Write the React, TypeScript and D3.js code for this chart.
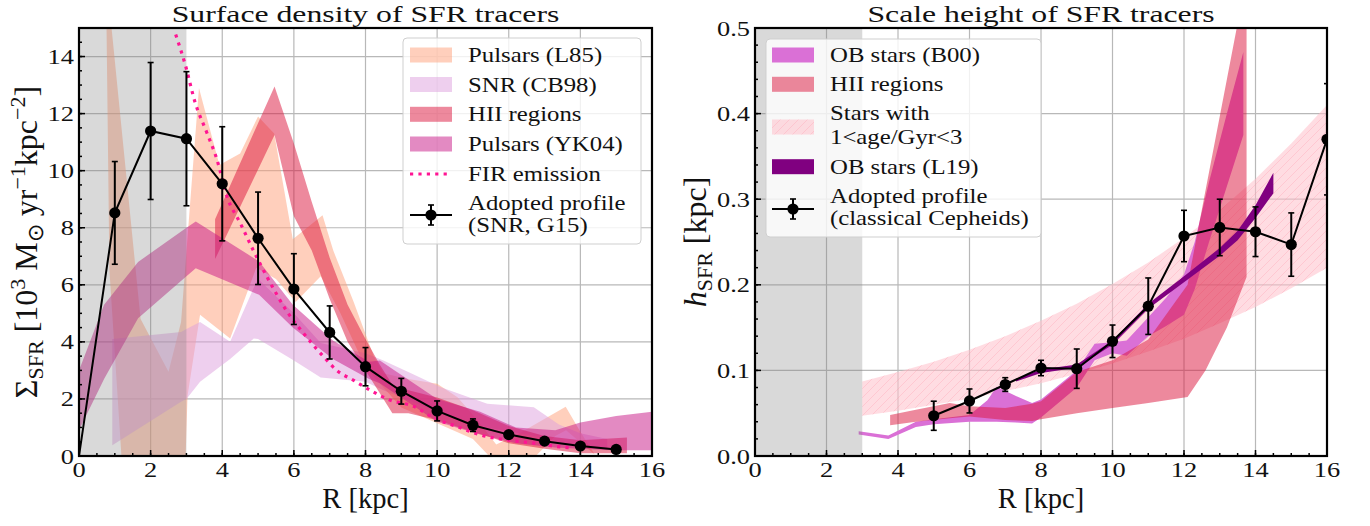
import React from 'react';
import * as d3 from 'd3';

// ---------------- Surface density panel ----------------
const densityR = [0, 1, 2, 3, 4, 5, 6, 7, 8, 9, 10, 11, 12, 13, 14, 15];
const densityAdopted = [0, 8.52, 11.39, 11.12, 9.54, 7.63, 5.85, 4.33, 3.13, 2.27, 1.58, 1.08, 0.75, 0.52, 0.35, 0.23];
const densityAdoptedErr = [null, 1.8, 2.4, 2.35, 2.0, 1.62, 1.24, 0.93, 0.67, 0.45, 0.35, 0.22, 0.1, 0.08, 0.07, 0.05];

// Pulsars (L85): upper / lower envelopes as [R, value]
const pulsarsL85Upper = [[0.75, 17], [1.72, 4.8], [2.5, 2.95], [2.85, 4.7], [3.35, 12.9], [3.92, 10.2], [4.5, 10.6], [5.0, 11.9], [5.45, 11.3], [5.97, 7.6], [6.8, 8.44], [7.1, 7.2], [7.67, 5.4], [8.23, 3.5], [8.5, 2.9], [9.2, 2.7], [10.0, 2.53], [10.57, 2.06], [11.13, 1.25], [11.65, 0.4], [12.3, 0.8], [13.59, 1.73], [14.0, 0.85], [14.4, 0.05]];
const pulsarsL85Lower = [[0.75, 17], [0.85, 6.5], [1.2, -0.3], [2.97, -0.3], [3.03, 2.1], [3.38, 4.95], [4.22, 4.12], [4.95, 6.6], [5.5, 6.2], [6.05, 5.4], [6.75, 6.3], [7.3, 5.0], [8.0, 3.1], [9.0, 1.7], [10.0, 1.15], [11.0, 0.6], [11.6, -0.2], [12.6, -0.2], [13.3, 0.7], [13.6, 0.9], [14.4, 0.05]];

// SNR (CB98)
const snrR = [0.93, 2.85, 3.0, 3.38, 4.22, 4.88, 5.0, 6.0, 6.75, 8.0, 8.5, 9.3, 10.1, 11.4, 12.7, 13.4, 14.0, 14.75];
const snrUpper = [4.1, 4.35, 4.45, 4.7, 4.0, 5.9, 6.2, 5.0, 3.96, 3.6, 3.35, 2.88, 2.41, 1.83, 1.71, 1.1, 0.8, 0.6];
const snrLower = [0.38, 1.9, 2.0, 2.6, 3.4, 4.12, 4.1, 3.35, 2.75, 2.6, 2.3, 1.9, 1.5, 1.0, 0.7, 0.5, 0.35, 0.2];

// HII regions (surface density)
const hiiDensR = [3.8, 5.46, 6.0, 6.5, 7.0, 7.5, 8.0, 8.4, 8.75, 9.2, 10.0, 11.0, 12.0, 13.0, 14.0, 15.3];
const hiiDensUpper = [8.3, 12.95, 10.95, 8.9, 6.95, 5.3, 4.1, 3.2, 2.5, 2.3, 2.05, 1.6, 1.05, 0.7, 0.55, 0.65];
const hiiDensLower = [6.9, 11.25, 8.4, 7.2, 5.5, 4.0, 3.0, 2.2, 1.5, 1.5, 1.25, 0.85, 0.45, 0.25, 0.1, 0.1];

// Pulsars (YK04)
const yk04R = [0, 0.7, 1.65, 3.0, 3.26, 5.03, 5.97, 7.09, 8.1, 8.4, 10.0, 11.2, 12.2, 13.3, 14.0, 15.0, 16.2];
const yk04Upper = [3.0, 5.3, 6.8, 8.0, 8.22, 6.82, 5.3, 4.05, 3.3, 3.35, 2.0, 1.55, 1.0, 0.9, 1.17, 1.4, 1.58];
const yk04Lower = [0.9, 2.7, 4.83, 6.3, 6.58, 5.65, 4.5, 3.4, 2.7, 2.55, 1.2, 0.75, 0.45, 0.3, 0.25, 0.2, 0.2];

// FIR emission
const firR = [2.7, 2.97, 3.24, 3.57, 3.85, 4.13, 4.5, 4.87, 5.34, 5.81, 6.27, 6.83, 7.2, 7.67, 8.14, 8.7, 9.35, 9.91, 10.56, 11.2, 11.96, 12.7, 13.36, 13.8];
const firSigma = [14.77, 13.7, 12.4, 11.33, 10.4, 9.1, 8.17, 7.2, 6.07, 5.06, 4.3, 3.48, 3.0, 2.65, 2.3, 1.95, 1.74, 1.33, 1.03, 0.74, 0.56, 0.45, 0.33, 0.28];

// ---------------- Scale height panel ----------------
const heightR = [5, 6, 7, 8, 9, 10, 11, 12, 13, 14, 15, 16];
const heightAdopted = [0.047, 0.0643, 0.0835, 0.1028, 0.102, 0.134, 0.175, 0.257, 0.267, 0.262, 0.247, 0.370];
const heightAdoptedErr = [0.017, 0.014, 0.008, 0.009, 0.023, 0.019, 0.033, 0.030, 0.033, 0.029, 0.037, 0.065];

// OB stars (B00)
const b00R = [2.9, 3.73, 4.5, 5.0, 6.0, 6.5, 6.76, 7.3, 7.75, 8.0, 9.0, 9.5, 10.0, 10.4, 11.0, 11.5, 12.0, 12.3, 12.7, 13.2, 13.66];
const b00Upper = [0.029, 0.024, 0.040, 0.043, 0.048, 0.065, 0.081, 0.07, 0.062, 0.066, 0.100, 0.131, 0.133, 0.135, 0.162, 0.185, 0.212, 0.25, 0.32, 0.40, 0.472];
const b00Lower = [0.025, 0.020, 0.034, 0.037, 0.040, 0.040, 0.040, 0.039, 0.038, 0.045, 0.080, 0.112, 0.120, 0.117, 0.140, 0.152, 0.165, 0.195, 0.25, 0.315, 0.375];

// HII regions (scale height)
const hiiHeightR = [3.78, 4.5, 5.45, 6.0, 7.0, 7.75, 8.0, 9.0, 10.0, 11.0, 12.1, 12.6, 13.2, 13.75];
const hiiHeightUpper = [0.048, 0.054, 0.062, 0.058, 0.056, 0.061, 0.064, 0.098, 0.112, 0.136, 0.2, 0.31, 0.44, 0.56];
const hiiHeightLower = [0.036, 0.040, 0.044, 0.046, 0.042, 0.041, 0.043, 0.050, 0.056, 0.062, 0.069, 0.10, 0.15, 0.209];

// Stars with 1 < age/Gyr < 3
const starsR = [3, 4, 5, 6, 7, 8, 9, 10, 11, 12, 13, 14, 15, 16];
const starsUpper = [0.087, 0.098, 0.110, 0.124, 0.140, 0.158, 0.178, 0.201, 0.226, 0.255, 0.287, 0.324, 0.365, 0.410];
const starsLower = [0.047, 0.053, 0.060, 0.067, 0.076, 0.085, 0.096, 0.108, 0.122, 0.137, 0.155, 0.174, 0.196, 0.220];

// OB stars (L19)
const l19R = [7.3, 8, 9, 10, 11, 12, 13, 13.5, 14, 14.5];
const l19Upper = [0.090, 0.101, 0.107, 0.135, 0.178, 0.210, 0.243, 0.263, 0.293, 0.331];
const l19Lower = [0.087, 0.097, 0.103, 0.130, 0.172, 0.203, 0.234, 0.252, 0.278, 0.307];

// ---------------- Axes ----------------
const rTicks = [0, 2, 4, 6, 8, 10, 12, 14, 16];
const densityTicks = [0, 2, 4, 6, 8, 10, 12, 14];
const heightTicks = [0, 0.1, 0.2, 0.3, 0.4, 0.5];
const heightTickLabels = ['0.0', '0.1', '0.2', '0.3', '0.4', '0.5'];

const SERIF = "'Liberation Serif', 'Times New Roman', serif";

const C = {
  l85: '#ffa07a', snr: '#dda0dd', hii: '#dc143c', yk04: '#c71585', fir: '#ff1493',
  b00: '#da70d6', l19: '#800080', stars: '#ffc0cb', grid: '#b8b8b8', span: '#808080',
};

const W = 1370, H = 526;
const TOP = 28, BOTTOM = 456;

const xL = d3.scaleLinear().domain([0, 16]).range([79, 652]);
const yL = d3.scaleLinear().domain([0, 15]).range([BOTTOM, TOP]);
const xR = d3.scaleLinear().domain([0, 16]).range([755, 1327]);
const yR = d3.scaleLinear().domain([0, 0.5]).range([BOTTOM, TOP]);

type Scale = d3.ScaleLinear<number, number>;

function areaPath(xs: number[], lo: number[], hi: number[], x: Scale, y: Scale) {
  const idx = xs.map((_, i) => i);
  return d3.area<number>().x(i => x(xs[i])).y0(i => y(lo[i])).y1(i => y(hi[i]))(idx) || '';
}

function envelopePath(upper: number[][], lower: number[][], x: Scale, y: Scale) {
  const pts: [number, number][] = [
    ...upper.map(p => [x(p[0]), y(p[1])] as [number, number]),
    ...lower.slice().reverse().map(p => [x(p[0]), y(p[1])] as [number, number]),
  ];
  return (d3.line()(pts) || '') + 'Z';
}

function range(a: number, b: number, step: number) {
  const out: number[] = [];
  const n = Math.round((b - a) / step);
  for (let i = 0; i <= n; i++) out.push(+(a + i * step).toFixed(6));
  return out;
}

// Serif text, widened horizontally to a broad book-face proportion
function T({ x, y, size, sx = 1.2, anchor = 'start', children }: {
  x: number; y: number; size: number; sx?: number; anchor?: string; children: React.ReactNode;
}) {
  return (
    <text transform={`translate(${x},${y}) scale(${sx},1)`} fontFamily={SERIF} fontSize={size}
      textAnchor={anchor as any} fill="#111">{children}</text>
  );
}

function Grid({ x, y, yTicks }: { x: Scale; y: Scale; yTicks: number[] }) {
  const [x0, x1] = x.range();
  return (
    <g stroke={C.grid} strokeWidth={1.2}>
      {rTicks.map(t => <line key={'gx' + t} x1={x(t)} x2={x(t)} y1={TOP} y2={BOTTOM} />)}
      {yTicks.map(t => <line key={'gy' + t} x1={x0} x2={x1} y1={y(t)} y2={y(t)} />)}
    </g>
  );
}

function Frame({ x, y, yTicks, yLabels, yMinor, xMinor }: {
  x: Scale; y: Scale; yTicks: number[]; yLabels: string[]; yMinor: number[]; xMinor: number[];
}) {
  const [x0, x1] = x.range();
  return (
    <g>
      <g stroke="#000" strokeWidth={1.5}>
        {xMinor.map(t => <line key={'xm' + t} x1={x(t)} x2={x(t)} y1={BOTTOM} y2={BOTTOM - 3} />)}
        {rTicks.map(t => <line key={'xM' + t} x1={x(t)} x2={x(t)} y1={BOTTOM} y2={BOTTOM - 6} />)}
        {yMinor.map(t => <line key={'ym' + t} x1={x0} x2={x0 + 3} y1={y(t)} y2={y(t)} />)}
        {yTicks.map(t => <line key={'yM' + t} x1={x0} x2={x0 + 6} y1={y(t)} y2={y(t)} />)}
      </g>
      <rect x={x0} y={TOP} width={x1 - x0} height={BOTTOM - TOP} fill="none" stroke="#000" strokeWidth={2.2} />
      {rTicks.map(t => (
        <T key={'xl' + t} x={x(t)} y={BOTTOM + 21} size={22} anchor="middle">{String(t)}</T>
      ))}
      {yTicks.map((t, i) => (
        <T key={'yl' + t} x={x0 - 5} y={y(t) + 7.5} size={22} anchor="end">{yLabels[i]}</T>
      ))}
    </g>
  );
}

function ErrorBars({ xs, ys, es, x, y }: { xs: number[]; ys: number[]; es: (number | null)[]; x: Scale; y: Scale }) {
  const line = d3.line<number>().x(i => x(xs[i])).y(i => y(ys[i]));
  return (
    <g>
      <path d={line(xs.map((_, i) => i)) || ''} fill="none" stroke="#000" strokeWidth={2} />
      {xs.map((r, i) => {
        const e = es[i];
        if (e == null) return null;
        const cx = x(r), top = y(ys[i] + e), bot = y(ys[i] - e);
        return (
          <g key={r}>
            <line x1={cx} x2={cx} y1={top} y2={bot} stroke="#000" strokeWidth={2} />
            <line x1={cx - 3} x2={cx + 3} y1={top} y2={top} stroke="#000" strokeWidth={1.6} />
            <line x1={cx - 3} x2={cx + 3} y1={bot} y2={bot} stroke="#000" strokeWidth={1.6} />
            <circle cx={cx} cy={y(ys[i])} r={5.6} fill="#000" />
          </g>
        );
      })}
    </g>
  );
}

function ErrHandle({ x, y }: { x: number; y: number }) {
  return (
    <g stroke="#000">
      <line x1={x} x2={x + 42} y1={y} y2={y} strokeWidth={2} />
      <line x1={x + 21} x2={x + 21} y1={y - 10} y2={y + 10} strokeWidth={2} />
      <line x1={x + 18} x2={x + 24} y1={y - 10} y2={y - 10} strokeWidth={1.6} />
      <line x1={x + 18} x2={x + 24} y1={y + 10} y2={y + 10} strokeWidth={1.6} />
      <circle cx={x + 21} cy={y} r={5.6} fill="#000" stroke="none" />
    </g>
  );
}

function Patch({ x, y, fill, opacity, hatch }: { x: number; y: number; fill: string; opacity: number; hatch?: boolean }) {
  return (
    <g>
      <rect x={x} y={y - 7.5} width={42} height={15} fill={fill} fillOpacity={opacity} />
      {hatch && <rect x={x} y={y - 7.5} width={42} height={15} fill="url(#starsHatch)" />}
    </g>
  );
}

const LEG = 21;
const LSX = 1.18;

function DensityPanel() {
  const xMinor = range(0, 16, 0.5);
  const yMinor = range(0, 15, 0.5);
  const firLine = d3.line<number>().x(i => xL(firR[i])).y(i => yL(firSigma[i])).curve(d3.curveMonotoneX);
  const lx = 410, tx = 468;
  return (
    <g>
      <Grid x={xL} y={yL} yTicks={densityTicks} />
      <g clipPath="url(#clipL)">
        <path d={envelopePath(pulsarsL85Upper, pulsarsL85Lower, xL, yL)} fill={C.l85} fillOpacity={0.5} />
        <path d={areaPath(snrR, snrLower, snrUpper, xL, yL)} fill={C.snr} fillOpacity={0.5} />
        <path d={areaPath(hiiDensR, hiiDensLower, hiiDensUpper, xL, yL)} fill={C.hii} fillOpacity={0.5} />
        <path d={areaPath(yk04R, yk04Lower, yk04Upper, xL, yL)} fill={C.yk04} fillOpacity={0.5} />
        <rect x={xL(0)} y={TOP} width={xL(3) - xL(0)} height={BOTTOM - TOP} fill={C.span} fillOpacity={0.3} />
        <path d={firLine(firR.map((_, i) => i)) || ''} fill="none" stroke={C.fir} strokeWidth={3.2} strokeDasharray="3.2 5.2" />
        <ErrorBars xs={densityR} ys={densityAdopted} es={densityAdoptedErr} x={xL} y={yL} />
      </g>
      <Frame x={xL} y={yL} yTicks={densityTicks} yLabels={densityTicks.map(String)} yMinor={yMinor} xMinor={xMinor} />
      <T x={365.5} y={22} size={23} sx={1.38} anchor="middle">Surface density of SFR tracers</T>
      {/* legend */}
      <rect x={403} y={38} width={238} height={206} rx={4} fill="#fff" fillOpacity={0.8} stroke="#cfcfcf" strokeWidth={1} />
      <Patch x={lx} y={55} fill={C.l85} opacity={0.5} />
      <Patch x={lx} y={84.5} fill={C.snr} opacity={0.5} />
      <Patch x={lx} y={114.3} fill={C.hii} opacity={0.5} />
      <Patch x={lx} y={144} fill={C.yk04} opacity={0.5} />
      <line x1={lx} x2={lx + 42} y1={174} y2={174} stroke={C.fir} strokeWidth={3.2} strokeDasharray="3.2 5.2" />
      <ErrHandle x={lx} y={215} />
      <T x={tx} y={62} size={LEG} sx={LSX}>Pulsars (L85)</T>
      <T x={tx} y={91.5} size={LEG} sx={LSX}>SNR (CB98)</T>
      <T x={tx} y={121.3} size={LEG} sx={LSX}>HII regions</T>
      <T x={tx} y={151} size={LEG} sx={LSX}>Pulsars (YK04)</T>
      <T x={tx} y={181} size={LEG} sx={LSX}>FIR emission</T>
      <T x={tx} y={210} size={LEG} sx={LSX}>Adopted profile</T>
      <T x={tx} y={231.5} size={LEG} sx={LSX}>(SNR, G15)</T>
      <text x={365.5} y={508} textAnchor="middle" fontFamily={SERIF} fontSize={28.5} fill="#111">R [kpc]</text>
      <text transform="translate(37,242) rotate(-90)" textAnchor="middle" fontFamily={SERIF} fontSize={32} fill="#111">
        <tspan>Σ</tspan>
        <tspan fontSize={22} dy={6}>SFR</tspan>
        <tspan dy={-6}> [10</tspan>
        <tspan fontSize={22} dy={-12}>3</tspan>
        <tspan dy={12}> M</tspan>
        <tspan fontSize={22} dy={6}>⊙</tspan>
        <tspan dy={-6}> yr</tspan>
        <tspan fontSize={22} dy={-12}>−1</tspan>
        <tspan dy={12}>kpc</tspan>
        <tspan fontSize={22} dy={-12}>−2</tspan>
        <tspan dy={12}>]</tspan>
      </text>
    </g>
  );
}

function HeightPanel() {
  const xMinor = range(0, 16, 0.5);
  const yMinor = range(0, 0.5, 0.02);
  const lx = 772, tx = 830;
  return (
    <g>
      <Grid x={xR} y={yR} yTicks={heightTicks} />
      <g clipPath="url(#clipR)">
        <path d={areaPath(starsR, starsLower, starsUpper, xR, yR)} fill={C.stars} fillOpacity={0.55} />
        <path d={areaPath(starsR, starsLower, starsUpper, xR, yR)} fill="url(#starsHatch)" />
        <path d={areaPath(b00R, b00Lower, b00Upper, xR, yR)} fill={C.b00} />
        <path d={areaPath(hiiHeightR, hiiHeightLower, hiiHeightUpper, xR, yR)} fill={C.hii} fillOpacity={0.5} />
        <path d={areaPath(l19R, l19Lower, l19Upper, xR, yR)} fill={C.l19} />
        <rect x={xR(0)} y={TOP} width={xR(3) - xR(0)} height={BOTTOM - TOP} fill={C.span} fillOpacity={0.3} />
        <ErrorBars xs={heightR} ys={heightAdopted} es={heightAdoptedErr} x={xR} y={yR} />
      </g>
      <Frame x={xR} y={yR} yTicks={heightTicks} yLabels={heightTickLabels} yMinor={yMinor} xMinor={xMinor} />
      <T x={1041} y={22} size={23} sx={1.38} anchor="middle">Scale height of SFR tracers</T>
      {/* legend */}
      <rect x={766} y={39} width={275} height={198} rx={4} fill="#fff" fillOpacity={0.8} stroke="#cfcfcf" strokeWidth={1} />
      <Patch x={lx} y={55} fill={C.b00} opacity={1} />
      <Patch x={lx} y={84.3} fill={C.hii} opacity={0.5} />
      <Patch x={lx} y={127} fill={C.stars} opacity={0.55} hatch />
      <Patch x={lx} y={166.7} fill={C.l19} opacity={1} />
      <ErrHandle x={lx} y={209} />
      <T x={tx} y={62} size={LEG} sx={LSX}>OB stars (B00)</T>
      <T x={tx} y={91.3} size={LEG} sx={LSX}>HII regions</T>
      <T x={tx} y={120.3} size={LEG} sx={LSX}>Stars with</T>
      <T x={tx} y={143.7} size={LEG} sx={LSX}>1&lt;age/Gyr&lt;3</T>
      <T x={tx} y={173.7} size={LEG} sx={LSX}>OB stars (L19)</T>
      <T x={tx} y={202.7} size={LEG} sx={LSX}>Adopted profile</T>
      <T x={tx} y={225.3} size={LEG} sx={LSX}>(classical Cepheids)</T>
      <text x={1041} y={508} textAnchor="middle" fontFamily={SERIF} fontSize={28.5} fill="#111">R [kpc]</text>
      <text transform="translate(706,242) rotate(-90)" textAnchor="middle" fontFamily={SERIF} fontSize={32} fill="#111">
        <tspan fontStyle="italic">h</tspan>
        <tspan fontSize={22} dy={6}>SFR</tspan>
        <tspan dy={-6}> [kpc]</tspan>
      </text>
    </g>
  );
}

export default function App() {
  return (
    <div style={{ position: 'absolute', left: 0, top: 0 }}>
      <svg width={W} height={H} viewBox={`0 0 ${W} ${H}`} style={{ display: 'block', background: '#fff' }}>
        <defs>
          <clipPath id="clipL"><rect x={xL(0)} y={TOP} width={xL(16) - xL(0)} height={BOTTOM - TOP} /></clipPath>
          <clipPath id="clipR"><rect x={xR(0)} y={TOP} width={xR(16) - xR(0)} height={BOTTOM - TOP} /></clipPath>
          <pattern id="starsHatch" patternUnits="userSpaceOnUse" width={9} height={9}>
            <path d="M0,9 L9,0 M-2.25,2.25 L2.25,-2.25 M6.75,11.25 L11.25,6.75" stroke="#ff8fa6" strokeWidth={0.7} strokeOpacity={0.4} />
          </pattern>
        </defs>
        <rect x={0} y={0} width={W} height={H} fill="#fff" />
        <DensityPanel />
        <HeightPanel />
      </svg>
    </div>
  );
}
